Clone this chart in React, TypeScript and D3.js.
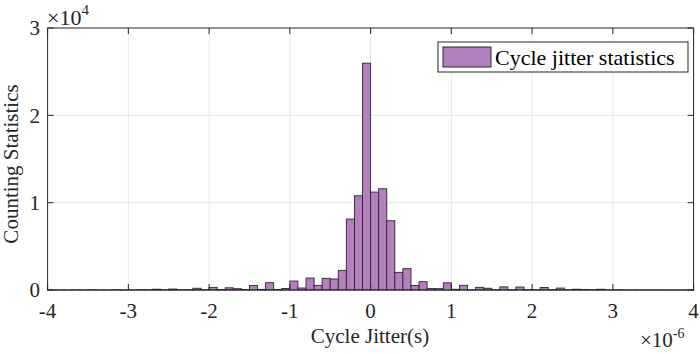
import React from 'react';
import * as d3 from 'd3';

// histogram of cycle jitter, 80 bins of 0.1e-6 s from -4e-6 to 4e-6
const binStart = -4;
const binWidth = 0.1;
const counts = [
    10, 15, 8, 20, 12, 25, 15, 10, 30, 20,
    25, 40, 30, 90, 30, 110, 30, 40, 200, 40,
    300, 60, 250, 150, 50, 520, 70, 840, 60, 180,
    1020, 230, 1370, 530, 1340, 1260, 2250, 8120, 10790, 25970,
    11210, 11590, 7930, 2020, 2440, 520, 950, 160, 150, 820,
    80, 540, 30, 300, 200, 30, 360, 40, 340, 40,
    30, 280, 40, 220, 30, 90, 60, 30, 90, 20,
    30, 15, 20, 10, 15, 10, 12, 8, 10, 5,
];
const xTicks = [-4, -3, -2, -1, 0, 1, 2, 3, 4];
const yTicks = [0, 1, 2, 3];
const legendLabel = 'Cycle jitter statistics';

const W = 700;
const H = 354;
const margin = { top: 28, right: 6.4, bottom: 64, left: 47.6 };
const font = '"Liberation Serif", "Times New Roman", serif';
const barFill = '#b280bd';
const barEdge = '#2e2430';
const axisColor = '#262626';

const App = () => {
    const x = d3.scaleLinear().domain([-4, 4]).range([margin.left, W - margin.right]);
    const y = d3.scaleLinear().domain([0, 3]).range([H - margin.bottom, margin.top]);
    const [x0, x1] = x.range();
    const [yb, yt] = y.range();

    const bins = counts.map((c, i) => ({ lo: binStart + i * binWidth, hi: binStart + (i + 1) * binWidth, v: c / 1e4 }));

    return (
        <svg width={W} height={H} style={{ position: 'absolute', left: 0, top: 0, background: '#fff' }} fontFamily={font}>
            {/* grid */}
            {xTicks.slice(1, -1).map(t => (
                <line key={'gx' + t} x1={x(t)} x2={x(t)} y1={yt} y2={yb} stroke="#e8e8e8" />
            ))}
            {yTicks.slice(1, -1).map(t => (
                <line key={'gy' + t} x1={x0} x2={x1} y1={y(t)} y2={y(t)} stroke="#e8e8e8" />
            ))}

            {/* bars */}
            {bins.map((b, i) => (
                <rect key={i} x={x(b.lo)} y={y(b.v)} width={x(b.hi) - x(b.lo)} height={yb - y(b.v)}
                    fill={barFill} stroke={barEdge} strokeWidth={0.9} />
            ))}

            {/* box + ticks */}
            <rect x={x0} y={yt} width={x1 - x0} height={yb - yt} fill="none" stroke={axisColor} />
            {xTicks.map(t => (
                <g key={'tx' + t}>
                    <line x1={x(t)} x2={x(t)} y1={yb} y2={yb - 6} stroke={axisColor} />
                    <line x1={x(t)} x2={x(t)} y1={yt} y2={yt + 6} stroke={axisColor} />
                    <text x={x(t)} y={318} fontSize={21} textAnchor="middle" fill={axisColor}>{String(t)}</text>
                </g>
            ))}
            {yTicks.map(t => (
                <g key={'ty' + t}>
                    <line x1={x0} x2={x0 + 6} y1={y(t)} y2={y(t)} stroke={axisColor} />
                    <line x1={x1} x2={x1 - 6} y1={y(t)} y2={y(t)} stroke={axisColor} />
                    <text x={40} y={y(t)} dy="0.35em" fontSize={21} textAnchor="end" fill={axisColor}>{String(t)}</text>
                </g>
            ))}

            {/* exponents */}
            <text x={47} y={25} fontSize={22} fill={axisColor}>
                ×10<tspan dy={-10} fontSize={15}>4</tspan>
            </text>
            <text x={640} y={347} fontSize={21} fill={axisColor}>
                ×10<tspan dy={-9} fontSize={14}>-6</tspan>
            </text>

            {/* axis labels */}
            <text x={370} y={343} fontSize={21} textAnchor="middle" fill={axisColor}>Cycle Jitter(s)</text>
            <text transform={`translate(18,${(yt + yb) / 2 + 5}) rotate(-90)`} fontSize={21} textAnchor="middle" fill={axisColor}>Counting Statistics</text>

            {/* legend */}
            <rect x={438} y={42} width={250} height={30} fill="#fff" stroke={axisColor} />
            <rect x={443} y={47} width={48} height={20} fill={barFill} stroke={barEdge} />
            <text x={495} y={65} fontSize={22} fill="#000">{legendLabel}</text>
        </svg>
    );
};

export default App;
